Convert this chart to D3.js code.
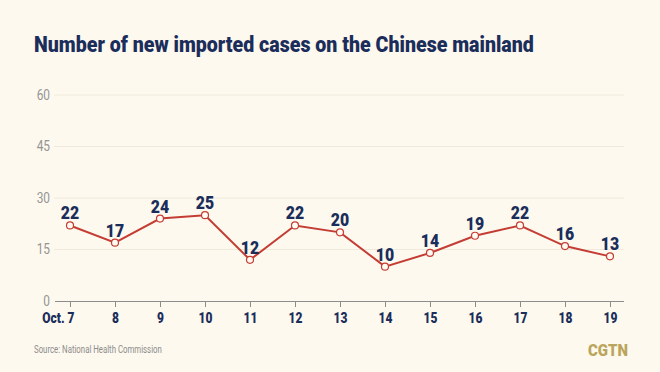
<!DOCTYPE html>
<html>
<head>
<meta charset="utf-8">
<script src="https://cdn.jsdelivr.net/npm/d3@7"></script>
<style>
  body { margin: 0; background: #fdf9ee; }
  svg { display: block; }
</style>
</head>
<body>
<svg id="chart"></svg>
<script>
const days = ['Oct. 7', '8', '9', '10', '11', '12', '13', '14', '15', '16', '17', '18', '19'];
const cases = [22, 17, 24, 25, 12, 22, 20, 10, 14, 19, 22, 16, 13];
const yTicks = [0, 15, 30, 45, 60];

const width = 660;
const height = 372;
const navy = '#1b2d5b';
const red = '#c43d35';
const font = 'Roboto, "DejaVu Sans", sans-serif';

const svg = d3.select('#chart').attr('width', width).attr('height', height);

svg.append('rect').attr('width', width).attr('height', height).attr('fill', '#fdf9ee');

// squeeze a text horizontally so it takes a given width (the original face is condensed)
function squeeze(sel, x, y, w) {
  const len = sel.node().getComputedTextLength();
  sel.attr('transform', `translate(${x},${y}) scale(${w / len},1)`);
}

const title = svg.append('text')
  .style('font-family', font).style('font-weight', 900)
  .style('font-size', '22px').style('fill', navy)
  .text('Number of new imported cases on the Chinese mainland');
squeeze(title, 34, 52, 500);

const x = d3.scalePoint().domain(days).range([70, 610]);
const y = d3.scaleLinear().domain([0, 60]).range([301, 95]);

// grid lines
svg.append('g')
  .selectAll('line')
  .data(yTicks.slice(1))
  .enter()
  .append('line')
  .attr('x1', 54).attr('x2', 624)
  .attr('y1', d => y(d)).attr('y2', d => y(d))
  .style('stroke', '#efeadc').style('stroke-width', 1);

// y axis labels
const yAxis = svg.append('g')
  .attr('transform', 'translate(54,0)')
  .call(d3.axisLeft(y).tickValues(yTicks).tickSize(0).tickPadding(3));
yAxis.select('.domain').remove();
yAxis.selectAll('text')
  .attr('transform', 'scale(0.85,1)').attr('x', -4 / 0.85)
  .style('font-family', font).style('font-size', '14px').style('fill', '#959595');

// x axis
const xs = 0.8;
const xAxis = svg.append('g')
  .attr('transform', 'translate(0,301)')
  .call(d3.axisBottom(x).tickSize(6).tickPadding(5).tickSizeOuter(0));
xAxis.select('.domain').attr('d', 'M55,0.5H624').style('stroke', '#8c8c8c');
xAxis.selectAll('.tick line').style('stroke', '#8c8c8c');
xAxis.selectAll('text')
  .attr('transform', `scale(${xs},1)`)
  .style('font-family', font).style('font-weight', 900)
  .style('font-size', '15px').style('fill', navy);
// first label: the day number sits under its tick, the month runs out to the left
xAxis.selectAll('text').filter(d => d === days[0])
  .attr('text-anchor', 'end').attr('x', 4 / xs);

const line = d3.line()
  .x((d, i) => x(days[i]))
  .y(d => y(d));

svg.append('path')
  .datum(cases)
  .attr('d', line)
  .style('fill', 'none')
  .style('stroke', red)
  .style('stroke-width', 2);

svg.append('g')
  .selectAll('circle')
  .data(cases)
  .enter()
  .append('circle')
  .attr('cx', (d, i) => x(days[i]))
  .attr('cy', d => y(d))
  .attr('r', 3.5)
  .style('fill', '#fffaf2')
  .style('stroke', red)
  .style('stroke-width', 1.2);

svg.append('g')
  .selectAll('text')
  .data(cases)
  .enter()
  .append('text')
  .attr('transform', (d, i) => `translate(${x(days[i])},${y(d) - 6}) scale(0.88,1)`)
  .attr('text-anchor', 'middle')
  .style('font-family', font).style('font-weight', 900)
  .style('font-size', '18px').style('fill', navy)
  .text(d => d);

const source = svg.append('text')
  .style('font-family', font).style('font-size', '10px').style('fill', '#8c8c8c')
  .text('Source: National Health Commission');
squeeze(source, 34, 353, 128);

const logo = svg.append('text')
  .style('font-family', font).style('font-weight', 900)
  .style('font-size', '17px').style('fill', '#bba55c')
  .text('CGTN');
squeeze(logo, 588, 356, 40);
</script>
</body>
</html>
